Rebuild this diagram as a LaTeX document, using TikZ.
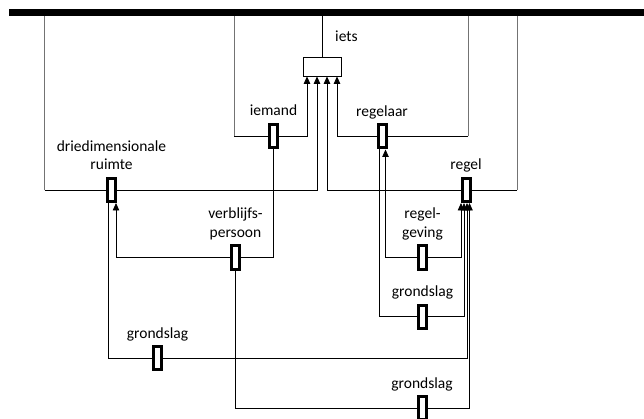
\documentclass[tikz,border=0pt]{standalone}
\usepackage{fontspec}
\setmainfont{Carlito}
\usetikzlibrary{arrows.meta,positioning}

\tikzset{
  rel/.style={draw,line width=3pt,fill=white,inner sep=0pt,minimum width=8pt,minimum height=23pt},
  obj/.style={draw,line width=0.8pt,inner sep=0pt,minimum width=38pt,minimum height=19pt},
  lbl/.style={font=\fontsize{15.5}{18.5}\selectfont,align=center,inner sep=0pt},
  drop/.style={draw=black!55,line width=0.8pt},
  lnk/.style={line width=0.8pt},
  arr/.style={lnk,-{Triangle[width=6.5pt,length=7.5pt]}}
}

\begin{document}
\begin{tikzpicture}[x=1pt,y=-1pt]
\useasboundingbox (0,0) rectangle (644,419);
% the bar
\fill (9,9) rectangle (644,16);
\coordinate (top) at (322,16);
\coordinate (d1) at (44.5,16);
\coordinate (d2) at (234,16);
\coordinate (d3) at (468,16);
\coordinate (d4) at (517,16);

% objects
\node[obj] (iets) at (322,66.5) {};
\node[lbl,anchor=base west] (ietslbl) at (335,42) {iets};

\node[rel] (iemand) at (273.5,136) {};
\node[rel] (regelaar) at (382,136.5) {};
\node[rel] (ruimte) at (111.5,190) {};
\node[rel] (regel) at (466,190) {};
\node[rel] (verbl) at (235.5,257.5) {};
\node[rel] (geving) at (422.5,257.5) {};
\node[rel] (gr1) at (422.5,316.5) {};
\node[rel] (gr2) at (157.5,358) {};
\node[rel] (gr3) at (422,408) {};

% labels
\node[lbl,above=7pt of iemand,anchor=base] (iemandlbl) {iemand};
\node[lbl,above=7pt of regelaar,anchor=base] (regelaarlbl) {regelaar};
\node[lbl,above=7pt of ruimte,anchor=base] (ruimtelbl) {driedimensionale\\ruimte};
\node[lbl,above=7pt of regel,anchor=base] (regellbl) {regel};
\node[lbl,above=7pt of verbl,anchor=base] (verbllbl) {verblijfs-\\persoon};
\node[lbl,above=7pt of geving,anchor=base] (gevinglbl) {regel-\\geving};
\node[lbl,above=7pt of gr1,anchor=base] (gr1lbl) {grondslag};
\node[lbl,above=7pt of gr2,anchor=base] (gr2lbl) {grondslag};
\node[lbl,above=7pt of gr3,anchor=base] (gr3lbl) {grondslag};

% from the bar
\draw[lnk] (top) -- (iets.north);
\draw[drop] (d1) -- (d1 |- ruimte);
\draw[lnk] (d1 |- ruimte) -- (ruimte.west);
\draw[drop] (d2) -- (d2 |- iemand);
\draw[lnk] (d2 |- iemand) -- (iemand.west);
\draw[drop] (d3) -- (d3 |- regelaar);
\draw[lnk] (d3 |- regelaar) -- (regelaar.east);
\draw[drop] (d4) -- (d4 |- regel);
\draw[lnk] (d4 |- regel) -- (regel.east);

% into iets
\draw[arr] (iemand.east) -| ([xshift=-15pt]iets.south);
\draw[arr] (ruimte.east) -| ([xshift=-5pt]iets.south);
\draw[arr] (regel.west) -| ([xshift=5pt]iets.south);
\draw[arr] (regelaar.west) -| ([xshift=15pt]iets.south);

% relations below
\draw[lnk] (iemand.south) |- (verbl.east);
\draw[arr] (verbl.west) -| ([xshift=4.5pt]ruimte.south);
\draw[arr] (geving.west) -| ([xshift=3.5pt]regelaar.south);
\draw[arr] (geving.east) -| ([xshift=-5pt]regel.south);
\draw[lnk] ([xshift=-3pt]regelaar.south) |- (gr1.west);
\draw[arr] (gr1.east) -| ([xshift=-2pt]regel.south);
\draw[lnk] ([xshift=-3.5pt]ruimte.south) |- (gr2.west);
\draw[arr] (gr2.east) -| ([xshift=1pt]regel.south);
\draw[lnk] (verbl.south) |- (gr3.west);
\draw[arr] (gr3.east) -| ([xshift=3.5pt]regel.south);
\end{tikzpicture}
\end{document}
